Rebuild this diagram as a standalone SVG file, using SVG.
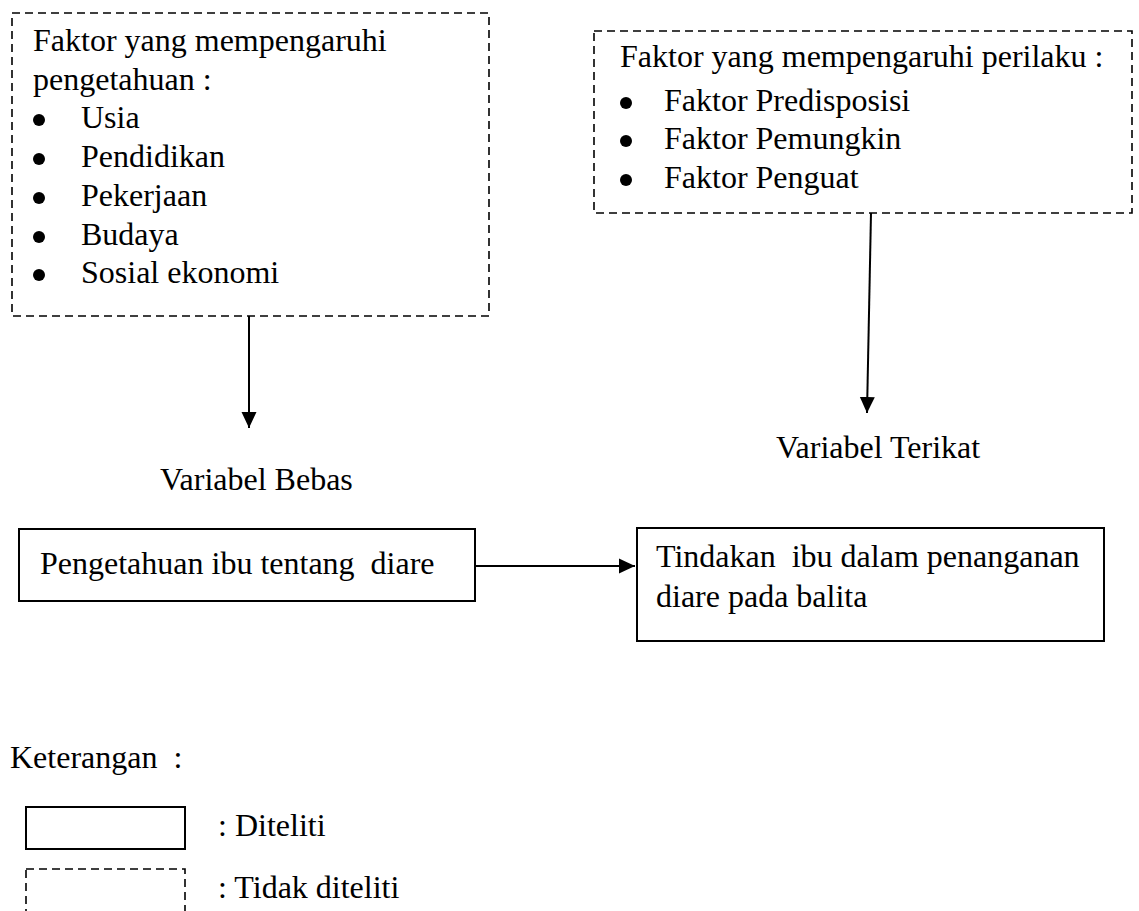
<svg xmlns="http://www.w3.org/2000/svg" width="1139" height="911" viewBox="0 0 1139 911">
<style>
text{font-family:"Liberation Serif","Times New Roman",serif;font-size:32px;fill:#000}
.dash{fill:none;stroke:#000;stroke-width:1.6;stroke-dasharray:8 5}
.solid{fill:none;stroke:#000;stroke-width:2}
.conn{fill:none;stroke:#000;stroke-width:2}
</style>
<defs>
<marker id="ah" markerUnits="userSpaceOnUse" markerWidth="16" markerHeight="16" viewBox="0 0 16 16" refX="16" refY="8" orient="auto">
<path d="M0,0.5 L16,8 L0,15.5 Z" fill="#000"/>
</marker>
</defs>
<rect width="1139" height="911" fill="#fff"/>
<g id="faktor-pengetahuan">
<rect class="dash" x="12" y="13" width="477" height="303"/>
<text x="33" y="51">Faktor yang mempengaruhi</text>
<text x="33" y="90">pengetahuan :</text>
<circle cx="39" cy="120" r="6"/><text x="81" y="128">Usia</text>
<circle cx="39" cy="159" r="6"/><text x="81" y="167">Pendidikan</text>
<circle cx="39" cy="198" r="6"/><text x="81" y="206">Pekerjaan</text>
<circle cx="39" cy="237" r="6"/><text x="81" y="245">Budaya</text>
<circle cx="39" cy="275" r="6"/><text x="81" y="283">Sosial ekonomi</text>
</g>
<g id="faktor-perilaku">
<rect class="dash" x="594" y="31" width="538" height="182"/>
<text x="620" y="67">Faktor yang mempengaruhi perilaku :</text>
<circle cx="626" cy="103" r="6"/><text x="664" y="111">Faktor Predisposisi</text>
<circle cx="626" cy="141" r="6"/><text x="664" y="149">Faktor Pemungkin</text>
<circle cx="626" cy="180" r="6"/><text x="664" y="188">Faktor Penguat</text>
</g>
<g id="label-bebas"><text x="160" y="490">Variabel Bebas</text></g>
<g id="label-terikat"><text x="776" y="458">Variabel Terikat</text></g>
<g id="pengetahuan-ibu">
<rect class="solid" x="19" y="529" width="456" height="72"/>
<text x="40" y="574" xml:space="preserve">Pengetahuan ibu tentang  diare</text>
</g>
<g id="tindakan-ibu">
<rect class="solid" x="637" y="528" width="467" height="113"/>
<text x="656" y="567" xml:space="preserve">Tindakan  ibu dalam penanganan</text>
<text x="656" y="607">diare pada balita</text>
</g>
<g id="connectors">
<line class="conn" x1="249" y1="316" x2="249" y2="428" marker-end="url(#ah)"/>
<line class="conn" x1="871" y1="213" x2="867" y2="413" marker-end="url(#ah)"/>
<line class="conn" x1="476" y1="566" x2="635" y2="566" marker-end="url(#ah)"/>
</g>
<g id="legend">
<text x="10" y="768" xml:space="preserve">Keterangan  :</text>
<rect class="solid" x="26" y="807" width="159" height="42"/>
<text x="218" y="836">: Diteliti</text>
<rect class="dash" x="26" y="869" width="159" height="60"/>
<text x="218" y="898">: Tidak diteliti</text>
</g>
</svg>
